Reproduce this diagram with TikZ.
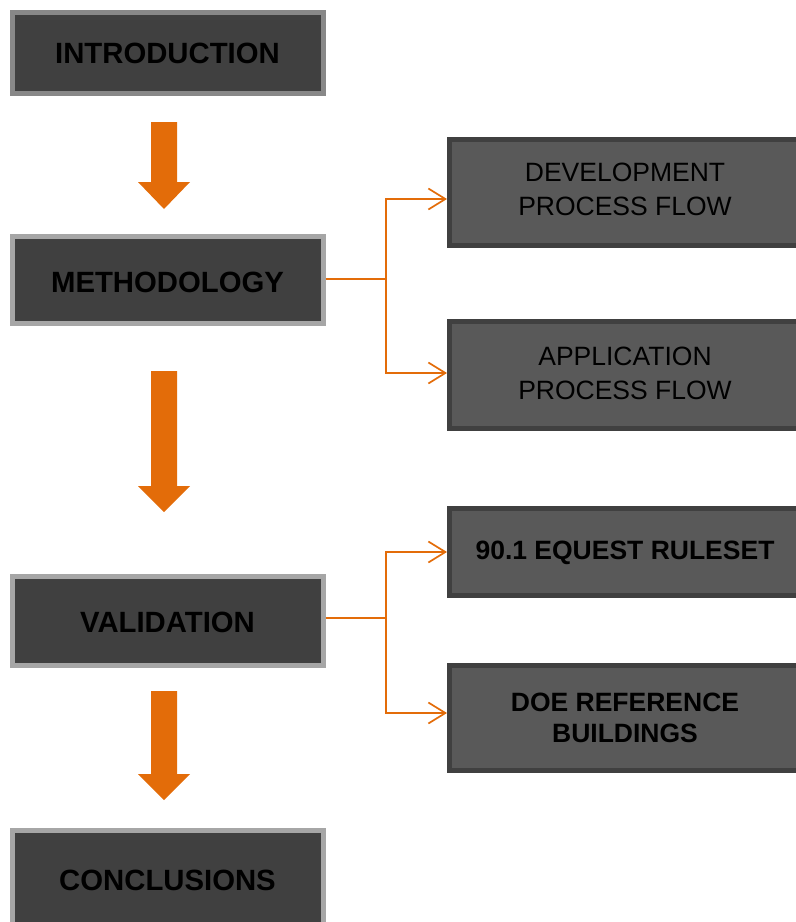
\documentclass[tikz,border=0pt]{standalone}
\usepackage{fontspec}
\setmainfont{Liberation Sans}
\usetikzlibrary{arrows.meta,positioning}
\definecolor{boxfill}{HTML}{404040}
\definecolor{boxedge}{HTML}{A6A6A6}
\definecolor{introedge}{HTML}{888888}
\definecolor{subfill}{HTML}{595959}
\definecolor{subedge}{HTML}{404040}
\definecolor{flow}{HTML}{E36C09}
\tikzset{
  mainbox/.style={draw=boxedge, fill=boxfill, line width=5pt, inner sep=0pt,
    minimum width=311pt, font=\fontsize{29.3}{34}\selectfont\bfseries, text=black, align=center},
  subbox/.style={draw=subedge, fill=subfill, line width=5pt, inner sep=0pt,
    minimum width=351pt, font=\fontsize{26.5}{34}\selectfont, text=black, align=center},
  subboxbold/.style={subbox, font=\fontsize{26.5}{31}\selectfont\bfseries},
  branch/.style={draw=flow, line width=1.6pt,
    -{Straight Barb[length=17pt,width=21pt,line width=1.7pt]}},
  blockarrow/.style={fill=flow}
}
\begin{document}
\begin{tikzpicture}[x=1pt,y=-1pt]
\useasboundingbox (0,0) rectangle (796,922);
\begin{scope}
\clip (0,0) rectangle (796,922);
% left column
\node[mainbox, draw=introedge, minimum height=81pt] (intro) at (167.5,53) {INTRODUCTION};
\node[mainbox, minimum height=87pt] (meth) at (167.5,280) {};
\node[font=\fontsize{29.3}{34}\selectfont\bfseries] (metht) at (167.5,282) {METHODOLOGY};
\node[mainbox, minimum height=89pt] (valid) at (167.5,621) {};
\node[font=\fontsize{29.3}{34}\selectfont\bfseries] (validt) at (167.5,622) {VALIDATION};
\node[mainbox, minimum height=100pt] (concl) at (167.5,880) {};
\node[font=\fontsize{29.3}{34}\selectfont\bfseries] (conclt) at (167.5,880) {CONCLUSIONS};
% right column
\node[subbox, minimum height=106pt] (dev) at (625,192) {};
\node[font=\fontsize{26.5}{34}\selectfont, align=center] (devt) at (625,189.5) {DEVELOPMENT\\PROCESS FLOW};
\node[subbox, minimum height=107pt] (app) at (625,375) {};
\node[font=\fontsize{26.5}{34}\selectfont, align=center] (appt) at (625,373) {APPLICATION\\PROCESS FLOW};
\node[subboxbold, minimum height=87pt] (eq) at (625,552) {};
\node[font=\fontsize{26.5}{31}\selectfont\bfseries] (eqt) at (625,553) {90.1 EQUEST RULESET};
\node[subboxbold, minimum height=105pt] (doe) at (625,718) {DOE REFERENCE\\BUILDINGS};
% branching connectors
\coordinate (mj) at (386,279);
\coordinate (vj) at (386,618);
\draw[draw=flow, line width=1.6pt] (meth.east |- mj) -- (mj);
\draw[branch] (mj) |- ([yshift=-7pt]dev.west);
\draw[branch] (mj) |- ([yshift=2pt]app.west);
\draw[draw=flow, line width=1.6pt] (valid.east |- vj) -- (vj);
\draw[branch] (vj) |- (eq.west);
\draw[branch] (vj) |- ([yshift=5pt]doe.west);
% block arrows between the main steps
\fill[blockarrow] (151,122) -- (177,122) -- (177,182) -- (190,182) -- (164,209) -- (138,182) -- (151,182) -- cycle;
\fill[blockarrow] (151,371) -- (177,371) -- (177,486) -- (190,486) -- (164,512) -- (138,486) -- (151,486) -- cycle;
\fill[blockarrow] (151,691) -- (177,691) -- (177,774) -- (190,774) -- (164,800) -- (138,774) -- (151,774) -- cycle;
\end{scope}
\end{tikzpicture}
\end{document}
